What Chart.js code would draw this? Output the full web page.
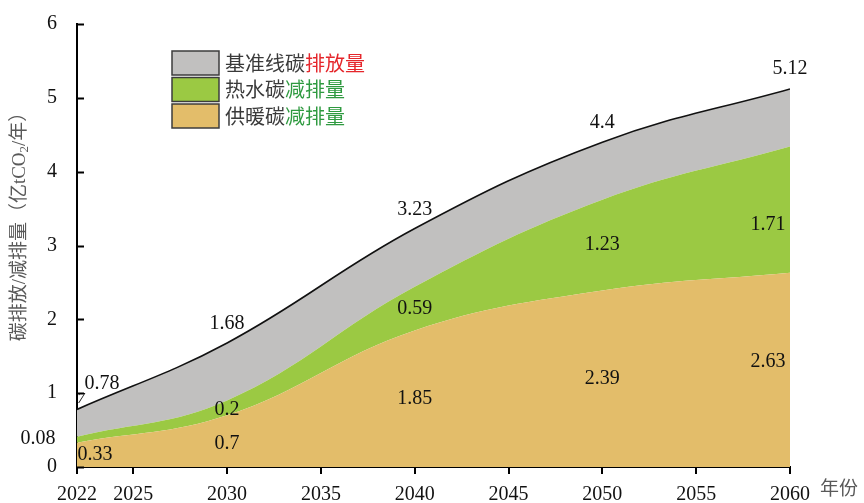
<!DOCTYPE html>
<html>
<head>
<meta charset="utf-8">
<script src="https://cdn.jsdelivr.net/npm/chart.js"></script>
<style>
  html, body { margin: 0; padding: 0; background: #fff; }
  #wrap { width: 864px; height: 503px; }
</style>
</head>
<body>
<div id="wrap"><canvas id="carbonChart"></canvas></div>
<script>
// data
const years = [2022, 2030, 2040, 2050, 2060];
const heating = [0.33, 0.7, 1.85, 2.39, 2.63];     // 供暖碳减排量
const hotWater = [0.08, 0.2, 0.59, 1.23, 1.71];    // 热水碳减排量
const baseline = [0.78, 1.68, 3.23, 4.4, 5.12];    // 基准线碳排放量
const xTicks = [2022, 2025, 2030, 2035, 2040, 2045, 2050, 2055, 2060];
const yTicks = [0, 1, 2, 3, 4, 5, 6];

const stackedWater = heating.map((v, i) => v + hotWater[i]);
const pts = arr => arr.map((v, i) => ({ x: years[i], y: v }));

const serif = '"Liberation Serif", "Noto Sans CJK SC", serif';

// label nudges (pixels), per point
const totalNudge = [[25, -26], [0, -19], [0, -19], [0, -19], [0, -20]];
const waterNudge = [[-39, -1], [0, 2], [0, 0], [0, 0], [-22, 15]];
const heatNudge = [[18, 0], [0, 3], [0, 0], [0, 0], [-22, -8]];

const drawExtras = {
  id: 'drawExtras',
  afterDatasetsDraw(chart) {
    const ctx = chart.ctx;
    const xs = chart.scales.x, ys = chart.scales.y;
    ctx.save();
    ctx.font = '20px ' + serif;
    ctx.fillStyle = '#111';
    ctx.textAlign = 'center';
    ctx.textBaseline = 'middle';
    years.forEach((yr, i) => {
      const px = xs.getPixelForValue(yr);
      ctx.fillText(String(baseline[i]), px + totalNudge[i][0], ys.getPixelForValue(baseline[i]) + totalNudge[i][1]);
      ctx.fillText(String(hotWater[i]), px + waterNudge[i][0], ys.getPixelForValue(heating[i] + hotWater[i] / 2) + waterNudge[i][1]);
      ctx.fillText(String(heating[i]), px + heatNudge[i][0], ys.getPixelForValue(heating[i] / 2) + heatNudge[i][1]);
    });
    // clipped label fragment next to the axis
    ctx.font = 'italic 15px ' + serif;
    ctx.fillText('7', xs.getPixelForValue(years[0]) + 4, ys.getPixelForValue(baseline[0]) - 10);
    ctx.restore();
  },
  afterDraw(chart) {
    const ctx = chart.ctx;
    const area = chart.chartArea;
    const ys = chart.scales.y;
    ctx.save();
    // inward y ticks
    ctx.strokeStyle = '#000';
    ctx.lineWidth = 2;
    yTicks.forEach(v => {
      const py = Math.round(ys.getPixelForValue(v)) + 0.5;
      ctx.beginPath();
      ctx.moveTo(area.left, py);
      ctx.lineTo(area.left + 7, py);
      ctx.stroke();
    });

    // legend
    const legend = [
      { color: '#c1c0bf', parts: [['基准线碳', '#3a3a3a'], ['排放量', '#e5262b']] },
      { color: '#9bc943', parts: [['热水碳', '#3a3a3a'], ['减排量', '#2f9a40']] },
      { color: '#e3bd6a', parts: [['供暖碳', '#3a3a3a'], ['减排量', '#2f9a40']] }
    ];
    const lx = area.left + 95, ly = area.top + 27;
    ctx.font = '20px "Noto Sans CJK SC", sans-serif';
    ctx.textBaseline = 'middle';
    ctx.textAlign = 'left';
    legend.forEach((item, i) => {
      const by = ly + i * 26.5;
      ctx.fillStyle = item.color;
      ctx.fillRect(lx, by, 47, 24);
      ctx.strokeStyle = '#3c3c3c';
      ctx.lineWidth = 1.5;
      ctx.strokeRect(lx, by, 47, 24);
      let tx = lx + 53;
      item.parts.forEach(([txt, col]) => {
        ctx.fillStyle = col;
        ctx.fillText(txt, tx, by + 12);
        tx += ctx.measureText(txt).width;
      });
    });

    // y axis title with subscript
    const pieces = [
      ['碳排放/减排量（亿tCO', '19px ' + serif, 0],
      ['2', '13px ' + serif, 5],
      ['/年）', '19px ' + serif, 0]
    ];
    let total = 0;
    pieces.forEach(p => { ctx.font = p[1]; total += ctx.measureText(p[0]).width; });
    ctx.translate(20, 222);
    ctx.rotate(-Math.PI / 2);
    ctx.fillStyle = '#595959';
    ctx.textAlign = 'left';
    let tx = -total / 2;
    pieces.forEach(p => {
      ctx.font = p[1];
      ctx.fillText(p[0], tx, p[2]);
      tx += ctx.measureText(p[0]).width;
    });
    ctx.setTransform(1, 0, 0, 1, 0, 0);

    // x axis title
    ctx.font = '19px "Noto Sans CJK SC", sans-serif';
    ctx.fillStyle = '#595959';
    ctx.textAlign = 'center';
    ctx.fillText('年份', area.right + 49, area.bottom + 21);
    ctx.restore();
  }
};

new Chart(document.getElementById('carbonChart'), {
  type: 'line',
  data: {
    datasets: [
      {
        label: '供暖碳减排量',
        data: pts(heating),
        backgroundColor: '#e3bd6a',
        borderWidth: 0,
        pointRadius: 0,
        fill: 'origin',
        tension: 0.4
      },
      {
        label: '热水碳减排量',
        data: pts(stackedWater),
        backgroundColor: '#9bc943',
        borderWidth: 0,
        pointRadius: 0,
        fill: '-1',
        tension: 0.4
      },
      {
        label: '基准线碳排放量',
        data: pts(baseline),
        backgroundColor: '#c1c0bf',
        borderColor: '#111',
        borderWidth: 1.6,
        pointRadius: 0,
        fill: '-1',
        tension: 0.4
      }
    ]
  },
  options: {
    responsive: true,
    maintainAspectRatio: false,
    animation: false,
    layout: { padding: { left: 0, right: 74, top: 12, bottom: 0 } },
    plugins: {
      legend: { display: false },
      tooltip: { enabled: false }
    },
    scales: {
      x: {
        type: 'linear',
        min: 2022,
        max: 2060,
        afterBuildTicks: axis => { axis.ticks = xTicks.map(v => ({ value: v })); },
        afterFit: axis => { axis.height = 36; },
        grid: { drawOnChartArea: false, drawTicks: true, tickLength: 7, color: '#000', lineWidth: 2 },
        border: { display: true, color: '#000', width: 2 },
        ticks: {
          color: '#111',
          font: { family: serif, size: 20 },
          padding: 9,
          maxRotation: 0,
          autoSkip: false,
          callback: v => String(v)
        }
      },
      y: {
        min: 0,
        max: 6,
        afterBuildTicks: axis => { axis.ticks = yTicks.map(v => ({ value: v })); },
        afterFit: axis => { axis.width = 77; },
        grid: { display: false },
        border: { display: true, color: '#000', width: 2 },
        ticks: {
          color: '#111',
          font: { family: serif, size: 20 },
          padding: 12,
          callback: v => String(v)
        }
      }
    }
  },
  plugins: [drawExtras]
});
</script>
</body>
</html>
